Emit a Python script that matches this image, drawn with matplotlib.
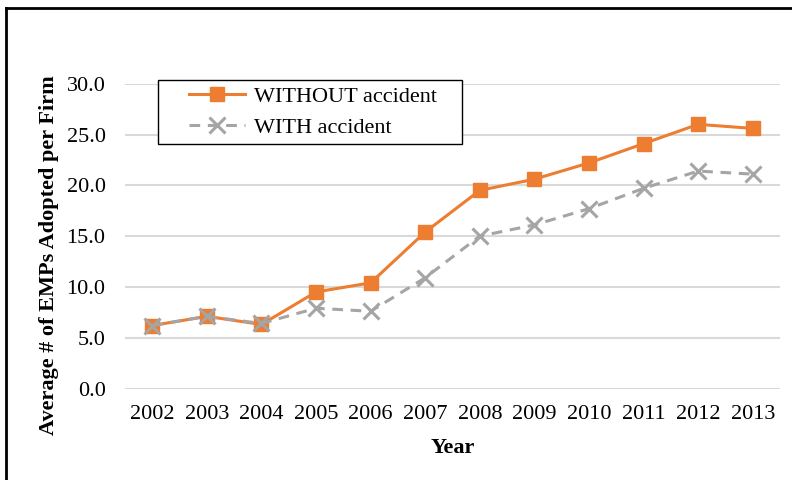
import matplotlib.pyplot as plt
from matplotlib.lines import Line2D
from matplotlib.legend_handler import HandlerLine2D

plt.rcParams['font.family'] = ['Liberation Serif', 'DejaVu Serif']

years = ['2002', '2003', '2004', '2005', '2006', '2007',
         '2008', '2009', '2010', '2011', '2012', '2013']
without_accident = [6.2, 7.1, 6.3, 9.5, 10.4, 15.4, 19.5, 20.6, 22.2, 24.1, 26.0, 25.6]
with_accident = [6.2, 7.1, 6.4, 7.9, 7.6, 10.9, 15.0, 16.1, 17.7, 19.7, 21.4, 21.1]


class IndentedHandler(HandlerLine2D):
    # legend sample starts a bit in from the frame, like an Excel legend
    def get_xdata(self, legend, xdescent, ydescent, width, height, fontsize):
        start = -xdescent + 0.3 * width
        end = -xdescent + width
        return [start, end], [0.5 * (start + end)]


fig = plt.figure(figsize=(7.92, 4.8), dpi=100)
ax = fig.add_axes([125 / 792, 1 - 388.5 / 480, 655 / 792, 304.8 / 480])

x = range(len(years))
ax.plot(x, without_accident, color='#ED7D31', lw=2.2, marker='s', ms=9.5,
        label='WITHOUT accident', zorder=3)
ax.plot(x, with_accident, color='#A5A5A5', lw=2.2, ls=(0, (3.5, 2.5)), marker='x',
        ms=11, mew=2.2, label='WITH accident', zorder=4)

ax.set_xlim(-0.5, len(years) - 0.5)
ax.set_ylim(0, 30)
ax.set_xticks(list(x))
ax.set_xticklabels(years)
ax.set_yticks([0, 5, 10, 15, 20, 25, 30])
ax.set_yticklabels([f'{v:.1f}' for v in [0, 5, 10, 15, 20, 25, 30]])
ax.tick_params(length=0, labelsize=16, pad=12)
ax.tick_params(axis='y', pad=14)
ax.grid(axis='y', color='#D9D9D9', lw=1.5)
ax.set_axisbelow(True)
for s in ax.spines.values():
    s.set_visible(False)

ax.set_xlabel('Year', fontsize=16, fontweight='bold', labelpad=10)
ax.set_ylabel('Average # of EMPs Adopted per Firm', fontsize=16, fontweight='bold')
ax.yaxis.set_label_coords(-0.1, 0.438)

leg = ax.legend(loc='upper left', bbox_to_anchor=(158 / 792, 1 - 80 / 480, 304 / 792, 0),
                bbox_transform=fig.transFigure, mode='expand', borderaxespad=0,
                fontsize=16, handlelength=3.6, handletextpad=0.4, fancybox=False,
                edgecolor='black', framealpha=1, borderpad=0.3, labelspacing=0.45,
                handler_map={Line2D: IndentedHandler()})
leg.get_frame().set_linewidth(1.0)

# outer frame around the chart
fig.add_artist(Line2D([6 / 792, 6 / 792], [0, 1 - 8 / 480], color='black', lw=2,
                      transform=fig.transFigure))
fig.add_artist(Line2D([6 / 792, 1], [1 - 8 / 480, 1 - 8 / 480], color='black', lw=2,
                      transform=fig.transFigure))

fig.savefig('out.png', dpi=100)
